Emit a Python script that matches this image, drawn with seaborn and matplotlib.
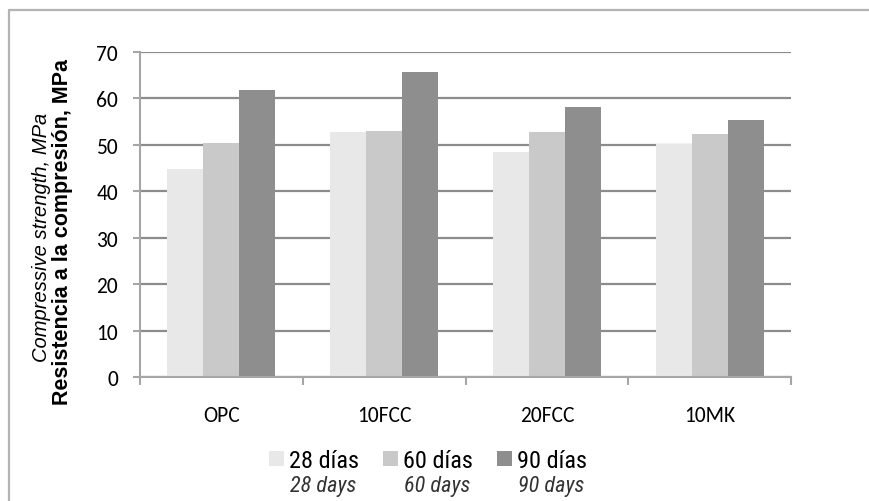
import matplotlib
matplotlib.use("Agg")
import matplotlib.pyplot as plt
from matplotlib import font_manager
from matplotlib.lines import Line2D
from matplotlib.patches import Rectangle
import seaborn as sns
import pandas as pd

# Mixes and curing ages
mixes = ["OPC", "10FCC", "20FCC", "10MK"]
ages_es = ["28 días", "60 días", "90 días"]
ages_en = ["28 days", "60 days", "90 days"]

# Compressive strength, MPa
strength_28 = [44.9, 52.7, 48.4, 50.2]
strength_60 = [50.5, 52.9, 52.8, 52.4]
strength_90 = [61.9, 65.7, 58.1, 55.3]

yticks = [0, 10, 20, 30, 40, 50, 60, 70]
bar_colors = ["#e8e8e8", "#c9c9c9", "#8e8e8e"]

installed = {f.name for f in font_manager.fontManager.ttflist}
def pick(*names):
    for n in names:
        if n in installed:
            return n
    return "DejaVu Sans"

tick_font = pick("Carlito", "Lato", "Open Sans")
narrow_font = pick("Liberation Sans Narrow", "Roboto Condensed", "Liberation Sans")
arial = pick("Liberation Sans", "DejaVu Sans")

df = pd.DataFrame({
    "mix": mixes * 3,
    "age": [ages_es[0]] * 4 + [ages_es[1]] * 4 + [ages_es[2]] * 4,
    "strength": strength_28 + strength_60 + strength_90,
})

sns.set_theme(style="white")
fig = plt.figure(figsize=(8.7, 5.02), dpi=100)
ax = fig.add_axes([140 / 870, 1 - 378 / 502, (791 - 140) / 870, (378 - 53) / 502])

sns.barplot(data=df, x="mix", y="strength", hue="age", order=mixes,
            hue_order=ages_es, palette=bar_colors, width=0.664,
            linewidth=0, saturation=1, legend=False, ax=ax)

ax.set_ylim(0, 70)
ax.set_xlim(-0.5, len(mixes) - 0.5)
ax.set_axisbelow(True)
ax.yaxis.grid(True, color="#8c8c8c", linewidth=1.6)
ax.xaxis.grid(False)

for side in ["top", "right"]:
    ax.spines[side].set_visible(False)
for side in ["left", "bottom"]:
    ax.spines[side].set_color("#a6a6a6")
    ax.spines[side].set_linewidth(1.5)

ax.set_xlabel("")
ax.set_ylabel("")
ax.set_xticks(range(len(mixes)))
ax.set_xticklabels(mixes, fontsize=15.5, family=tick_font, color="black")
ax.set_yticks(yticks)
ax.set_yticklabels([str(v) for v in yticks], fontsize=15.5, family=tick_font,
                   color="black")
ax.set_xticks([i - 0.5 for i in range(len(mixes) + 1)], minor=True)
ax.tick_params(axis="x", which="major", length=0, pad=20)
ax.tick_params(axis="x", which="minor", length=6, width=1.5, color="#a6a6a6",
               direction="out", bottom=True)
ax.tick_params(axis="y", which="major", length=5, width=1.5, color="#a6a6a6",
               direction="out", left=True, pad=11)

# Two-language axis title
fig.text(63 / 870, 1 - 232 / 502, "Resistencia a la compresión, MPa",
         rotation=90, ha="center", va="center", fontsize=15.5,
         fontweight="bold", family=arial, color="black")
fig.text(42 / 870, 1 - 237 / 502, "Compressive strength, MPa",
         rotation=90, ha="center", va="center", fontsize=14.5,
         style="italic", family=arial, color="black")

# Legend with Spanish and English labels
legend_x = [269, 383, 497]
for x0, col, es, en in zip(legend_x, bar_colors, ages_es, ages_en):
    fig.patches.append(Rectangle((x0 / 870, 1 - 467 / 502), 15 / 870, 15 / 502,
                                 transform=fig.transFigure, facecolor=col,
                                 edgecolor="none"))
    fig.text((x0 + 20) / 870, 1 - 462 / 502, es, ha="left", va="center",
             fontsize=17.5, family=narrow_font, color="black")
    fig.text((x0 + 21) / 870, 1 - 487 / 502, en, ha="left", va="center",
             fontsize=16, family=narrow_font, style="italic", color="#333333")

# Chart area border
border = "#b3b3b3"
fig.add_artist(Line2D([9 / 870, 9 / 870], [0, 1 - 11 / 502],
                      transform=fig.transFigure, color=border, linewidth=1.6))
fig.add_artist(Line2D([9 / 870, 1], [1 - 11 / 502, 1 - 11 / 502],
                      transform=fig.transFigure, color=border, linewidth=1.6))

fig.savefig("out.png", dpi=100, facecolor="white")
